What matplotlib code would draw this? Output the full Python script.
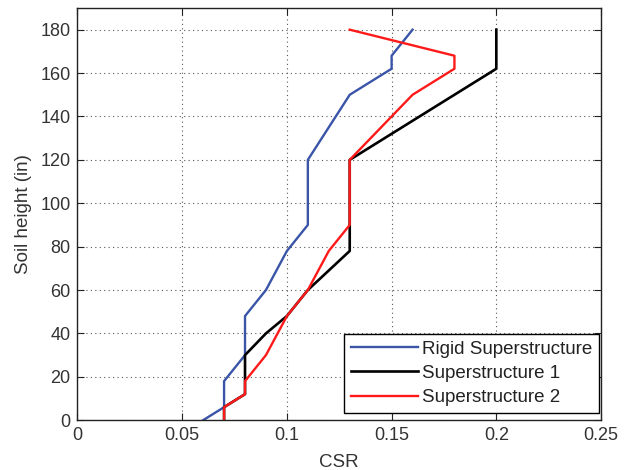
import matplotlib
matplotlib.use("Agg")
import matplotlib.pyplot as plt

# CSR profiles along the soil height
rigid_csr = [0.06, 0.065, 0.07, 0.07, 0.08, 0.08, 0.09, 0.10, 0.11, 0.11, 0.13, 0.15, 0.15, 0.16]
rigid_h = [0, 3, 6, 18, 30, 48, 60, 78, 90, 120, 150, 162, 168, 180]

sup1_csr = [0.07, 0.07, 0.08, 0.08, 0.08, 0.09, 0.10, 0.11, 0.12, 0.13, 0.13, 0.13, 0.20, 0.20]
sup1_h = [0, 6, 12, 18, 30, 40, 48, 60, 69, 78, 90, 120, 162, 180]

sup2_csr = [0.07, 0.07, 0.08, 0.08, 0.09, 0.10, 0.11, 0.12, 0.13, 0.13, 0.15, 0.16, 0.18, 0.18, 0.13]
sup2_h = [0, 6, 12, 18, 30, 48, 60, 78, 90, 120, 140, 150, 162, 168, 180]

x_ticks = [0, 0.05, 0.1, 0.15, 0.2, 0.25]
x_labels = ["0", "0.05", "0.1", "0.15", "0.2", "0.25"]
y_ticks = list(range(0, 181, 20))

plt.rcParams["font.family"] = ["Liberation Sans", "DejaVu Sans"]
plt.rcParams["font.size"] = 13

fig = plt.figure(figsize=(6.3, 4.7), dpi=100)
ax = fig.add_axes([0.123, 0.106, 0.831, 0.877])

ax.plot(rigid_csr, rigid_h, color="#3a55a8", linewidth=1.7, label="Rigid Superstructure")
ax.plot(sup1_csr, sup1_h, color="black", linewidth=1.9, label="Superstructure 1")
ax.plot(sup2_csr, sup2_h, color="#ff1a1a", linewidth=1.7, label="Superstructure 2")

ax.set_xlim(0, 0.25)
ax.set_ylim(0, 190)
ax.set_xticks(x_ticks)
ax.set_xticklabels(x_labels)
ax.set_yticks(y_ticks)
ax.tick_params(direction="in", top=True, right=True, length=5, width=0.8,
               colors="#222222", labelcolor="#333333", labelsize=13, pad=5)
ax.grid(True, linestyle=(0, (1, 3)), color="#555555", linewidth=0.8)
for s in ax.spines.values():
    s.set_linewidth(1.0)
    s.set_color("#222222")

ax.set_xlabel("CSR", color="#333333", fontsize=13.5, labelpad=7)
ax.set_ylabel("Soil height (in)", color="#333333", fontsize=13.5, labelpad=6)

leg = ax.legend(loc="lower right", bbox_to_anchor=(0.9955, 0.018), fancybox=False, framealpha=1,
                edgecolor="black", borderpad=0.35, handlelength=3.6, handletextpad=0.2,
                labelspacing=0.38, borderaxespad=0, fontsize=13.5)
leg.get_frame().set_linewidth(1.0)
for t in leg.get_texts():
    t.set_color("#222222")

fig.savefig("out.png", dpi=100)
plt.close(fig)
